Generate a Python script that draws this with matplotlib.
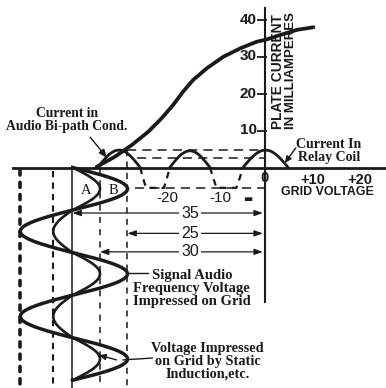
import numpy as np
import matplotlib.pyplot as plt

INK = "#1a1a1a"
SANS = "Liberation Sans"
SERIF = "Liberation Serif"

# Tube characteristic: grid volts -> plate milliamperes
CURVE_V = [-30.6, -27.3, -24.2, -21.2, -18.8, -16.7, -14.9, -13.1, -10.6,
           -7.6, -4.5, -1.5, 0.3, 2.1, 5.8, 8.8]
CURVE_MA = [0.2, 2.9, 6.1, 9.7, 13.3, 16.9, 20.5, 23.6, 26.8,
            29.9, 32.2, 34.0, 34.6, 35.5, 37.2, 37.9]

# Plate-current swing: zero crossings and peak of each half (mA)
SWING_EDGES = [-30.4, -22.7, -17.3, -10.0, -4.0, 4.2]
SWING_PEAKS = [4.7, -5.5, 4.5, -5.5, 4.7]

# Grid bias and the two signal excursions (volts); time runs downward
BIAS = -35.0
BIG_RIGHT, BIG_LEFT = -25.0, -44.5
SMALL_RIGHT, SMALL_LEFT = -30.0, -38.5
WAVE_PERIOD = 23.0
WAVE_END = -57.5

# Bias arrows: value in volts and row they are drawn on
ARROW_VOLTS = [35, 25, 30]
ARROW_ROWS = [-12.3, -17.8, -22.8]

Y_TICKS = [10, 20, 30, 40]

fig = plt.figure(figsize=(3.86, 3.88), dpi=100)
ax = fig.add_axes([0, 0, 1, 1])
ax.set_xlim(-265 / 5.5, 121 / 5.5)
ax.set_ylim(-220.5 / 3.7, 167.5 / 3.7)
ax.axis("off")

# axes of the characteristic
ax.plot([-45.8, 22.0], [0, 0], color=INK, lw=2.0)
ax.plot([0, 0], [43.1, -36.4], color=INK, lw=1.5)
ax.hlines(Y_TICKS, -1.4, 0.3, color=INK, lw=1.3)
for v in Y_TICKS:
    ax.text(-1.5, v, str(v), ha="right", va="center", fontsize=11,
            fontweight="bold", family=SANS, color=INK)

# characteristic curve
ax.plot(CURVE_V, CURVE_MA, color=INK, lw=2.7, solid_capstyle="round",
        solid_joinstyle="round")

# plate current swing: positive halves solid, cut-off halves dashed
for i, peak in enumerate(SWING_PEAKS):
    a, b = SWING_EDGES[i], SWING_EDGES[i + 1]
    v = np.linspace(a, b, 60)
    s = np.sin(np.pi * (v - a) / (b - a))
    if peak > 0:
        ax.plot(v, peak * s, color=INK, lw=2.0)
    else:
        ax.plot(v, peak * np.minimum(1, 1.7 * s), color=INK, lw=1.6,
                dashes=(3, 2.5))

# level lines
ax.plot([-25.1, 0], [4.7, 4.7], color=INK, lw=1.1, dashes=(6, 4))
ax.plot([-23.3, 0], [2.6, 2.6], color=INK, lw=1.1, dashes=(6, 4))
ax.plot([-23.6, 0], [-5.5, -5.5], color=INK, lw=1.1, dashes=(6, 4))

# vertical guides below the axis
ax.plot([BIG_LEFT, BIG_LEFT], [-0.8, -59.6], color=INK, lw=2.6,
        dashes=(1.4, 2.0), dash_capstyle="round")
ax.plot([SMALL_LEFT, SMALL_LEFT], [-1.0, -59.6], color=INK, lw=1.5,
        dashes=(3, 2.5))
ax.plot([BIAS, BIAS], [0, -59.6], color=INK, lw=1.1)
ax.plot([SMALL_RIGHT, SMALL_RIGHT], [0, -59.6], color=INK, lw=1.1,
        dashes=(4, 4))
ax.plot([BIG_RIGHT, BIG_RIGHT], [4.7, -59.6], color=INK, lw=1.1,
        dashes=(4, 3.5))

# grid signal waves
t = np.linspace(0, WAVE_END, 500)
ph = np.sin(2 * np.pi * (-t) / WAVE_PERIOD)


def swing(right, left):
    return BIAS + np.where(ph > 0, (right - BIAS) * ph, (BIAS - left) * ph)


ax.plot(swing(SMALL_RIGHT, SMALL_LEFT), t, color=INK, lw=1.9)
ax.plot(swing(BIG_RIGHT, BIG_LEFT), t, color=INK, lw=2.5)

ax.text(-32.5, -6.2, "A", ha="center", va="center", fontsize=10.5,
        family=SERIF, color=INK)
ax.text(-27.6, -6.2, "B", ha="center", va="center", fontsize=10.5,
        family=SERIF, color=INK)

# bias arrows
for volts, row in zip(ARROW_VOLTS, ARROW_ROWS):
    ax.annotate("", xy=(-0.4, row), xytext=(-volts, row),
                arrowprops=dict(arrowstyle="<|-|>,head_length=0.5,head_width=0.18",
                                color=INK, lw=0.9, shrinkA=0, shrinkB=0))
    ax.text(-13.6, row, str(volts), ha="center", va="center", fontsize=11.5,
            family=SANS, color=INK,
            bbox=dict(boxstyle="square,pad=0.15", fc="white", ec="none"))

# axis labels
ax.text(2.3, 10.3, "PLATE CURRENT", rotation=90, ha="center", va="bottom",
        fontsize=9.9, fontweight="bold", family=SANS, color=INK)
ax.text(4.7, 10.3, "IN MILLIAMPERES", rotation=90, ha="center", va="bottom",
        fontsize=9.5, fontweight="bold", family=SANS, color=INK)
ax.text(11.3, -6.7, "GRID VOLTAGE", ha="center", va="center", fontsize=8.9,
        fontweight="bold", family=SANS, color=INK)
for x, y, s in [(0, -2.9, "0"), (8.7, -3.3, "+10"), (17.3, -3.3, "+20")]:
    ax.text(x, y, s, ha="center", va="center", fontsize=10.5, family=SANS,
            fontweight="bold", color=INK)
for x, y, s in [(-17.8, -8.2, "-20"), (-8.2, -8.2, "-10")]:
    ax.text(x, y, s, ha="center", va="center", fontsize=11, family=SANS,
            color=INK)
ax.text(-3.1, -8.4, "\u25ac", ha="center", va="center", fontsize=7,
        color=INK)

# annotations
ax.text(-36.0, 12.8, "Current in\nAudio Bi-path Cond.", ha="center",
        va="center", fontsize=9.8, fontweight="bold", family=SERIF,
        color=INK, linespacing=1.05)
ax.annotate("", xy=(-28.7, 2.6), xytext=(-31.8, 8.2),
            arrowprops=dict(arrowstyle="-|>,head_length=0.5,head_width=0.2",
                            color=INK, lw=1.0, shrinkA=0, shrinkB=0))

ax.text(11.6, 4.5, "Current In\nRelay Coil", ha="center", va="center",
        fontsize=10, fontweight="bold", family=SERIF, color=INK,
        linespacing=1.0)
ax.annotate("", xy=(3.6, 1.2), xytext=(5.6, 5.3),
            arrowprops=dict(arrowstyle="-|>,head_length=0.4,head_width=0.18",
                            color=INK, lw=1.0, shrinkA=0, shrinkB=0))

ax.text(-13.3, -32.8, "Signal Audio\nFrequency Voltage\nImpressed on Grid",
        ha="center", va="center", fontsize=10.5, fontweight="bold",
        family=SERIF, color=INK, linespacing=1.0)
ax.plot([-25.1, -21.3], [-28.5, -28.5], color=INK, lw=1.0)

ax.text(-10.4, -52.4, "Voltage Impressed\non Grid by Static\nInduction,etc.",
        ha="center", va="center", fontsize=10.3, fontweight="bold",
        family=SERIF, color=INK, linespacing=1.0)
ax.plot([-25.8, -20.5], [-52.0, -51.5], color=INK, lw=1.0)
ax.annotate("", xy=(-30.2, -50.7), xytext=(-27.0, -52.0),
            arrowprops=dict(arrowstyle="-|>,head_length=0.4,head_width=0.18",
                            color=INK, lw=1.0, shrinkA=0, shrinkB=0))

fig.savefig("out.png", dpi=100, facecolor="white")
